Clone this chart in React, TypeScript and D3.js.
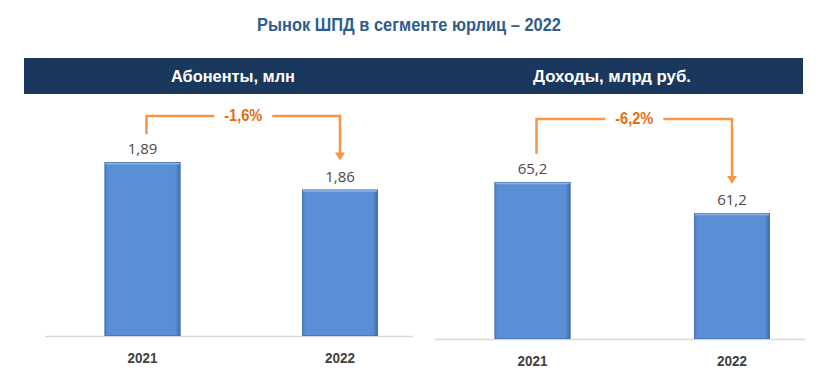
import React from "react";
import * as d3 from "d3";

const years = ["2021", "2022"];
const subscribers = [1.89, 1.86];
const revenue = [65.2, 61.2];
const subscriberLabels = ["1,89", "1,86"];
const revenueLabels = ["65,2", "61,2"];
const subscriberChange = "-1,6%";
const revenueChange = "-6,2%";
const title = "Рынок ШПД в сегменте юрлиц – 2022";
const panelTitles = ["Абоненты, млн", "Доходы, млрд руб."];

const W = 840;
const H = 380;
const FONT = "'Liberation Sans', Arial, sans-serif";

type PanelProps = {
  values: number[];
  labels: string[];
  change: string;
  x: d3.ScalePoint<string>;
  y: d3.ScaleLinear<number, number>;
  axisX0: number;
  axisX1: number;
  yearY: number;
  bracketY: number;
  gradId: string;
};

function Panel({ values, labels, change, x, y, axisX0, axisX1, yearY, bracketY, gradId }: PanelProps) {
  const bw = 76;
  const base = y.range()[0];
  const tops = values.map((v) => y(v));
  const labelY = tops.map((t) => t - 8);
  const x0 = (x(years[0]) as number) + 4;
  const x1 = x(years[1]) as number;
  const startY = labelY[0] - 20;
  const endY = labelY[1] - 21;
  const mid = (x0 + x1) / 2;
  const gap = 29;
  const orange = "#F79646";
  return (
    <g>
      <line x1={axisX0} x2={axisX1} y1={base + 0.5} y2={base + 0.5} stroke="#D9D9D9" strokeWidth={1.5} />
      {years.map((yr, i) => {
        const cx = x(yr) as number;
        return (
          <g key={yr}>
            <rect x={cx - bw / 2} y={tops[i]} width={bw} height={base - tops[i]} fill={`url(#${gradId})`} />
            <rect x={cx - bw / 2 + 0.5} y={tops[i] + 0.5} width={bw - 1} height={base - tops[i] - 1} fill="none" stroke="#4470AE" strokeWidth={1} opacity={0.7} />
            <line x1={cx - bw / 2 + 1} x2={cx + bw / 2 - 1} y1={tops[i] + 1.5} y2={tops[i] + 1.5} stroke="#8DB3E8" strokeWidth={1.5} />
            <text x={cx} y={labelY[i]} textAnchor="middle" fontFamily="'Open Sans', sans-serif" fontSize={15} fill="#4A4A4A">
              {labels[i]}
            </text>
            <text x={cx} y={yearY} textAnchor="middle" fontFamily={FONT} fontWeight="bold" fontSize={15} fill="#404040" textLength={30} lengthAdjust="spacingAndGlyphs">
              {yr}
            </text>
          </g>
        );
      })}
      <path d={`M${x0},${startY} V${bracketY} H${mid - gap}`} fill="none" stroke={orange} strokeWidth={2.5} />
      <path d={`M${mid + gap},${bracketY} H${x1} V${endY - 7}`} fill="none" stroke={orange} strokeWidth={2.5} />
      <path d={`M${x1 - 5},${endY - 8} L${x1 + 5},${endY - 8} L${x1},${endY} Z`} fill={orange} />
      <text x={mid} y={bracketY + 5} textAnchor="middle" fontFamily={FONT} fontWeight="bold" fontSize={16} fill="#E46C0A" textLength={38} lengthAdjust="spacingAndGlyphs">
        {change}
      </text>
    </g>
  );
}

export default function App() {
  const xLeft = d3.scalePoint<string>().domain(years).range([142.5, 340]);
  const xRight = d3.scalePoint<string>().domain(years).range([532.5, 732]);
  const yLeft = d3.scaleLinear().domain([1.7, 1.9]).range([336, 153]);
  const yRight = d3.scaleLinear().domain([45, 66]).range([339, 175.8]);

  return (
    <svg width={W} height={H} style={{ position: "absolute", left: 0, top: 0, background: "#fff" }}>
      <defs>
        {["gL", "gR"].map((id) => (
          <linearGradient key={id} id={id} x1="0" x2="1" y1="0" y2="0">
            <stop offset="0%" stopColor="#4F80C4" />
            <stop offset="5%" stopColor="#5A8ED5" />
            <stop offset="93%" stopColor="#5A8ED5" />
            <stop offset="100%" stopColor="#3E6CAD" />
          </linearGradient>
        ))}
      </defs>
      <text x={409} y={31} textAnchor="middle" fontFamily={FONT} fontWeight="bold" fontSize={18} fill="#2F5D8C" textLength={304} lengthAdjust="spacingAndGlyphs">
        {title}
      </text>
      <rect x={24} y={58} width={779} height={36} fill="#1A375E" />
      <text x={233} y={82} textAnchor="middle" fontFamily={FONT} fontWeight="bold" fontSize={17} fill="#fff" textLength={124} lengthAdjust="spacingAndGlyphs">
        {panelTitles[0]}
      </text>
      <text x={612} y={82} textAnchor="middle" fontFamily={FONT} fontWeight="bold" fontSize={17} fill="#fff" textLength={158} lengthAdjust="spacingAndGlyphs">
        {panelTitles[1]}
      </text>
      <Panel values={subscribers} labels={subscriberLabels} change={subscriberChange} x={xLeft} y={yLeft} axisX0={45} axisX1={413} yearY={363} bracketY={116} gradId="gL" />
      <Panel values={revenue} labels={revenueLabels} change={revenueChange} x={xRight} y={yRight} axisX0={435} axisX1={805} yearY={366} bracketY={119} gradId="gR" />
    </svg>
  );
}
